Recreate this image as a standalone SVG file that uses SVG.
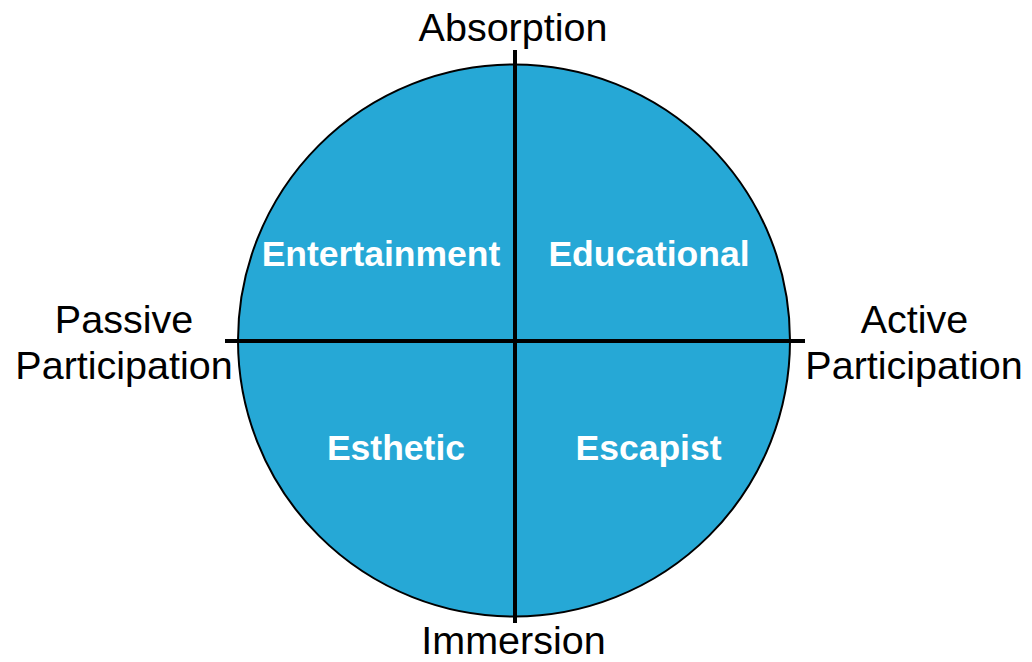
<svg xmlns="http://www.w3.org/2000/svg" width="1032" height="662" viewBox="0 0 1032 662">
<style>
.axis{font-family:"Liberation Sans",Arial,sans-serif;font-size:39.5px;fill:#000;text-anchor:middle}
.q{font-family:"Liberation Sans",Arial,sans-serif;font-size:35.5px;font-weight:bold;fill:#fff;text-anchor:middle}
.ln{stroke:#000;stroke-width:4;fill:none}
</style>
<rect width="1032" height="662" fill="#fff"/>
<g id="circle">
<circle cx="514" cy="340.5" r="276" fill="#26A8D6" stroke="#000" stroke-width="2"/>
</g>
<g id="connectors">
<line class="ln" x1="515" y1="50" x2="515" y2="623"/>
<line class="ln" x1="225" y1="341" x2="805" y2="341"/>
</g>
<g id="entertainment"><text class="q" x="381" y="266">Entertainment</text></g>
<g id="educational"><text class="q" x="649" y="266">Educational</text></g>
<g id="esthetic"><text class="q" x="396" y="460">Esthetic</text></g>
<g id="escapist"><text class="q" x="648.5" y="460">Escapist</text></g>
<g id="absorption"><text class="axis" x="513" y="41">Absorption</text></g>
<g id="immersion"><text class="axis" x="513.5" y="654">Immersion</text></g>
<g id="passive"><text class="axis" x="124" y="333">Passive</text><text class="axis" x="124" y="379">Participation</text></g>
<g id="active"><text class="axis" x="914.5" y="333">Active</text><text class="axis" x="914" y="379">Participation</text></g>
</svg>
